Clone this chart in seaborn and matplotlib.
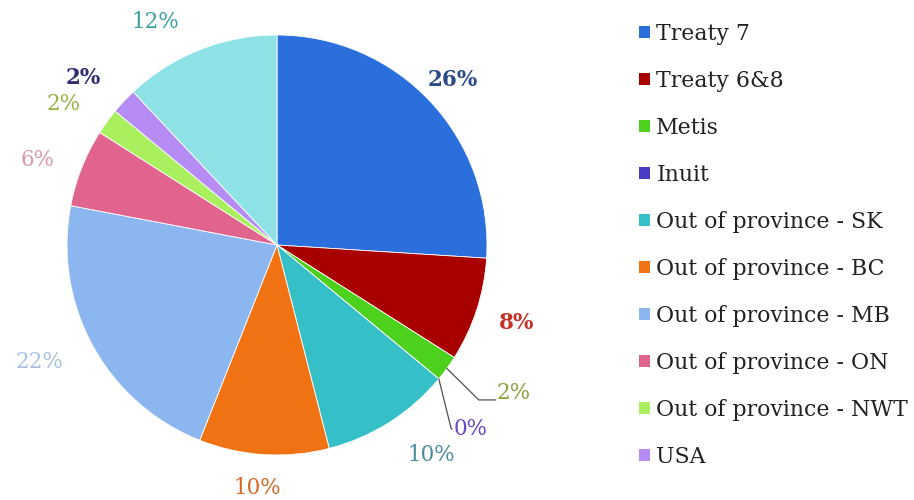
import numpy as np
import matplotlib
matplotlib.use("Agg")
import matplotlib.pyplot as plt
import seaborn as sns
from matplotlib.patches import Patch

# Share of participants by community / origin (%)
categories = ["Treaty 7", "Treaty 6&8", "Metis", "Inuit",
              "Out of province - SK", "Out of province - BC",
              "Out of province - MB", "Out of province - ON",
              "Out of province - NWT", "USA", "Other"]
shares = [26, 8, 2, 0, 10, 10, 22, 6, 2, 2, 12]
legend_items = categories[:10]

slice_colors = ["#2a6fdb", "#a80000", "#4cd11c", "#4a3cc4", "#35bfc6",
                "#f07212", "#8cb6f0", "#e0648e", "#a9ef5e", "#b58cf4", "#8ee2e6"]
label_colors = ["#2c4a86", "#c43228", "#8aa23e", "#6a48c8", "#4c8c9c",
                "#d4692a", "#a9c2e2", "#d89aa8", "#93b444", "#2f2f72", "#3c9fa2"]
label_bold = [True, True, False, False, False, False, False, False, False, True, False]

sns.set_theme(style="white")
plt.rcParams["font.family"] = ["DejaVu Serif", "DejaVu Sans"]

W, H = 914, 500
fig = plt.figure(figsize=(W / 100, H / 100), dpi=100)
fig.patch.set_facecolor("white")

cx, cy, R = 277, 245, 210
ax = fig.add_axes([(cx - R) / W, (H - cy - R) / H, 2 * R / W, 2 * R / H])

wedges, _ = ax.pie(shares, colors=slice_colors, startangle=90, counterclock=False,
                   radius=1.0, wedgeprops=dict(linewidth=0.6, edgecolor="white"))
ax.set_xlim(-1, 1)
ax.set_ylim(-1, 1)
ax.set_aspect("equal")
ax.axis("off")

# label placement: radial distance and angular nudge (degrees) per slice
label_r = [1.15, 1.20, 1.33, 1.27, 1.24, 1.16, 1.26, 1.21, 1.22, 1.22, 1.21]
label_nudge = [0, 0, 4, -4, 4, -1, -2.5, 2, 2.5, 2.5, 7]

cum = np.cumsum([0] + shares[:-1])
total = float(sum(shares))
for i, (s, c0) in enumerate(zip(shares, cum)):
    mid = (c0 + s / 2) / total
    theta = np.deg2rad(90 - 360 * mid + label_nudge[i])
    lx, ly = label_r[i] * np.cos(theta), label_r[i] * np.sin(theta)
    ax.text(lx, ly, f"{s}%", ha="center", va="center", fontsize=15.5,
            color=label_colors[i], fontweight="bold" if label_bold[i] else "normal",
            clip_on=False)
    if categories[i] in ("Metis", "Inuit"):
        th0 = np.deg2rad(90 - 360 * mid)
        ex, ey = np.cos(th0), np.sin(th0)
        if categories[i] == "Metis":
            xs = [ex, lx - 0.167, lx - 0.086]
            ys = [ey, ly - 0.033, ly - 0.033]
        else:
            xs = [ex, lx - 0.09, lx - 0.085]
            ys = [ey, ly + 0.0, ly + 0.0]
        ax.plot(xs, ys, color="#505050", lw=0.9, clip_on=False)

handles = [Patch(facecolor=slice_colors[i], edgecolor="none") for i in range(10)]
leg = fig.legend(handles, legend_items, loc="upper left",
                 bbox_to_anchor=(630 / W, 1 - 14 / H), frameon=False,
                 fontsize=15.8, handlelength=0.5, handleheight=0.5,
                 handletextpad=0.3, labelspacing=1.14, borderaxespad=0)
for t in leg.get_texts():
    t.set_color("#222222")

fig.savefig("out.png", dpi=100, facecolor="white")
